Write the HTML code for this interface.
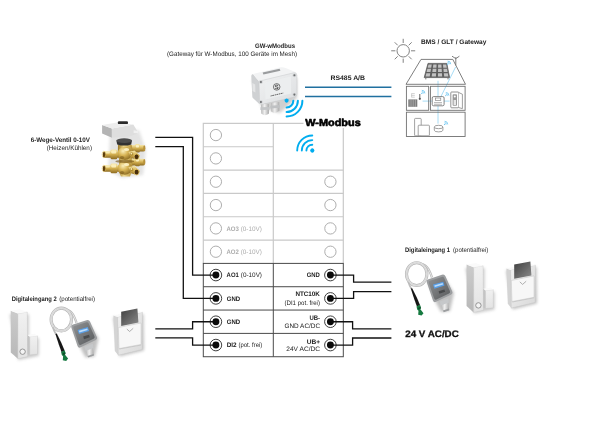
<!DOCTYPE html>
<html><head><meta charset="utf-8"><title>W-Modbus Anschlussbild</title>
<style>
html,body{margin:0;padding:0;background:#fff;}
body{width:600px;height:424px;overflow:hidden;}
svg{display:block;font-family:"Liberation Sans",sans-serif;}
</style></head>
<body>
<svg width="600" height="424" viewBox="0 0 600 424">
<rect width="600" height="424" fill="#fff"/>
<defs>
<filter id="soft" x="-10%" y="-10%" width="120%" height="120%"><feGaussianBlur stdDeviation="0.35"/></filter>
<filter id="soft2" x="-10%" y="-10%" width="120%" height="120%"><feGaussianBlur stdDeviation="0.55"/></filter>
<filter id="shadow" x="-30%" y="-30%" width="160%" height="160%"><feGaussianBlur stdDeviation="1.6"/></filter>
<linearGradient id="gCard" x1="0" y1="0" x2="1" y2="1"><stop offset="0" stop-color="#3f3f3f"/><stop offset="1" stop-color="#8c8c8c"/></linearGradient>
<linearGradient id="gFront" x1="0" y1="0" x2="0" y2="1"><stop offset="0" stop-color="#f1f1f1"/><stop offset="1" stop-color="#e3e3e3"/></linearGradient>
<linearGradient id="gSide" x1="0" y1="0" x2="0" y2="1"><stop offset="0" stop-color="#cbcbcb"/><stop offset="1" stop-color="#b8b8b8"/></linearGradient>
<linearGradient id="gPlate" x1="0" y1="0" x2="1" y2="1"><stop offset="0" stop-color="#efefef"/><stop offset="1" stop-color="#dadada"/></linearGradient>
<linearGradient id="gBox" x1="0" y1="0" x2="1" y2="1"><stop offset="0" stop-color="#909294"/><stop offset="1" stop-color="#595b5d"/></linearGradient>
<linearGradient id="gBrass" x1="0" y1="0" x2="0" y2="1"><stop offset="0" stop-color="#f8e9ac"/><stop offset="0.5" stop-color="#d3af50"/><stop offset="1" stop-color="#8e6c22"/></linearGradient>
<linearGradient id="gBrassH" x1="0" y1="0" x2="1" y2="0"><stop offset="0" stop-color="#9a7826"/><stop offset="0.4" stop-color="#f0d88c"/><stop offset="1" stop-color="#b08c34"/></linearGradient>
<linearGradient id="gGland" x1="0" y1="0" x2="1" y2="0"><stop offset="0" stop-color="#b9b9b9"/><stop offset="0.45" stop-color="#f0f0f0"/><stop offset="1" stop-color="#a9a9a9"/></linearGradient>
<linearGradient id="gLid" x1="0" y1="0" x2="1" y2="1"><stop offset="0" stop-color="#f1f2f3"/><stop offset="1" stop-color="#dcdee0"/></linearGradient>
<radialGradient id="gBrassR" cx="0.38" cy="0.32" r="0.75"><stop offset="0" stop-color="#fbefbc"/><stop offset="0.45" stop-color="#d8b454"/><stop offset="1" stop-color="#86651e"/></radialGradient>
</defs>
<g fill="none" stroke-linecap="butt">
<g stroke="#747474" stroke-width="0.9">
<circle cx="403.2" cy="50.8" r="6.2"/>
<path d="M411.00 50.80 L415.20 50.80"/>
<path d="M408.72 56.32 L411.69 59.29"/>
<path d="M403.20 58.60 L403.20 62.80"/>
<path d="M397.68 56.32 L394.71 59.29"/>
<path d="M395.40 50.80 L391.20 50.80"/>
<path d="M397.68 45.28 L394.71 42.31"/>
<path d="M403.20 43.00 L403.20 38.80"/>
<path d="M408.72 45.28 L411.69 42.31"/>
</g>
<g stroke="#8fd3f4" stroke-width="0.8">
<path d="M438.0 80.8 V96.6"/>
<path d="M438.0 105.8 V123.6"/>
<path d="M455.6 67.0 L440.9 96.6"/>
<path d="M422.6 101.1 H432.2"/>
<path d="M444.1 101.1 H449.6"/>
</g>
<g stroke="#707070" stroke-width="0.9" stroke-linejoin="miter">
<path d="M406.0 84.3 L421.0 59.4 H452.8 L465.5 84.3 Z"/>
<rect x="406.4" y="86.3" width="22.3" height="24.0"/>
<rect x="430.4" y="86.3" width="34.7" height="24.0"/>
<rect x="406.4" y="112.2" width="58.7" height="24.3"/>
<path d="M455.8 65.4 V57.2 M455.8 58.6 L452.0 56.2 M455.8 58.6 L459.4 56.2"/>
</g>
<polygon points="428.0,63.4 446.8,63.4 449.6,77.6 424.2,77.6" fill="#5e5e5e" stroke="#5e5e5e" stroke-width="0.8"/>
<polygon points="428.50,64.40 431.78,64.40 431.22,67.70 427.68,67.70" fill="#c2c2c2"/>
<polygon points="433.32,64.40 436.59,64.40 436.42,67.70 432.88,67.70" fill="#c2c2c2"/>
<polygon points="438.14,64.40 441.41,64.40 441.62,67.70 438.08,67.70" fill="#c2c2c2"/>
<polygon points="442.95,64.40 446.23,64.40 446.82,67.70 443.28,67.70" fill="#c2c2c2"/>
<polygon points="427.41,68.80 431.03,68.80 430.47,72.10 426.59,72.10" fill="#c2c2c2"/>
<polygon points="432.73,68.80 436.36,68.80 436.18,72.10 432.30,72.10" fill="#c2c2c2"/>
<polygon points="438.06,68.80 441.68,68.80 441.89,72.10 438.01,72.10" fill="#c2c2c2"/>
<polygon points="443.39,68.80 447.01,68.80 447.60,72.10 443.72,72.10" fill="#c2c2c2"/>
<polygon points="426.31,73.20 430.28,73.20 429.72,76.50 425.49,76.50" fill="#c2c2c2"/>
<polygon points="432.15,73.20 436.12,73.20 435.94,76.50 431.71,76.50" fill="#c2c2c2"/>
<polygon points="437.99,73.20 441.96,73.20 442.17,76.50 437.93,76.50" fill="#c2c2c2"/>
<polygon points="443.83,73.20 447.80,73.20 448.39,76.50 444.16,76.50" fill="#c2c2c2"/>
<path d="M425.8 77.6 V79.4 M448.0 77.6 V79.4" stroke="#6a6a6a" stroke-width="0.9"/>
<rect x="408.3" y="99.4" width="9.0" height="7.4" fill="#7a7a7a"/>
<path d="M410.10 99.4 V106.8" stroke="#cfcfcf" stroke-width="0.45"/>
<path d="M411.90 99.4 V106.8" stroke="#cfcfcf" stroke-width="0.45"/>
<path d="M413.70 99.4 V106.8" stroke="#cfcfcf" stroke-width="0.45"/>
<path d="M415.50 99.4 V106.8" stroke="#cfcfcf" stroke-width="0.45"/>
<path d="M411.4 93.6 H414.8 M411.4 95.4 H414.8 M411.4 97.2 H414.8 M411.6 93.6 V97.2" stroke="#b5b5b5" stroke-width="0.6"/>
<path d="M419.8 94.0 V98.4" stroke="#555" stroke-width="0.9"/><circle cx="419.8" cy="98.8" r="1.1" fill="#555"/>
<rect x="432.2" y="96.6" width="11.9" height="9.2" rx="1.4" fill="#fff" stroke="#666" stroke-width="0.8"/>
<rect x="435.4" y="98.0" width="5.4" height="2.6" fill="#fff" stroke="#777" stroke-width="0.6"/>
<rect x="434.40" y="102.2" width="1.2" height="0.9" fill="#777"/>
<rect x="434.40" y="103.8" width="1.2" height="0.9" fill="#777"/>
<rect x="436.40" y="102.2" width="1.2" height="0.9" fill="#777"/>
<rect x="436.40" y="103.8" width="1.2" height="0.9" fill="#777"/>
<rect x="438.40" y="102.2" width="1.2" height="0.9" fill="#777"/>
<rect x="438.40" y="103.8" width="1.2" height="0.9" fill="#777"/>
<rect x="440.40" y="102.2" width="1.2" height="0.9" fill="#777"/>
<rect x="440.40" y="103.8" width="1.2" height="0.9" fill="#777"/>
<rect x="450.8" y="92.0" width="8.0" height="15.8" rx="0.8" fill="#fff" stroke="#777" stroke-width="0.8"/>
<path d="M458.8 92.6 L462.4 94.2 V108.6 L458.8 107.6" stroke="#777" stroke-width="0.7" fill="#fff"/>
<rect x="452.6" y="94.2" width="4.4" height="11.6" rx="0.8" fill="#9a9a9a"/>
<circle cx="454.8" cy="96.6" r="1.0" fill="#fff"/>
<path d="M453.6 100 H456 V105 H453.6 Z" fill="#e6e6e6"/>
<rect x="414.6" y="118.4" width="6.6" height="17.4" rx="0.8" fill="#fff" stroke="#8a8a8a" stroke-width="0.8"/>
<rect x="418.2" y="125.2" width="11.2" height="10.6" rx="0.8" fill="#fff" stroke="#8a8a8a" stroke-width="0.8"/>
<path d="M434.3 127.0 V130.2 A4.3 1.7 0 0 0 442.9 130.2 V127.0" fill="#fff" stroke="#777" stroke-width="0.7"/>
<ellipse cx="438.6" cy="127.0" rx="4.3" ry="1.7" fill="#fff" stroke="#777" stroke-width="0.7"/>
<g stroke="#74c8f2" stroke-width="0.9" fill="none"><circle cx="447.6" cy="64.2" r="0.7" fill="#74c8f2" stroke="none"/><path d="M447.6 62.5 A1.7 1.7 0 0 1 449.3 64.2"/><path d="M447.6 61.1 A3.1 3.1 0 0 1 450.70000000000005 64.2"/></g>
<g stroke="#74c8f2" stroke-width="0.9" fill="none"><circle cx="421.8" cy="93.4" r="0.7" fill="#74c8f2" stroke="none"/><path d="M421.8 91.7 A1.7 1.7 0 0 1 423.5 93.4"/><path d="M421.8 90.30000000000001 A3.1 3.1 0 0 1 424.90000000000003 93.4"/></g>
<g stroke="#74c8f2" stroke-width="0.9" fill="none"><circle cx="445.8" cy="95.6" r="0.7" fill="#74c8f2" stroke="none"/><path d="M445.8 93.89999999999999 A1.7 1.7 0 0 1 447.5 95.6"/><path d="M445.8 92.5 A3.1 3.1 0 0 1 448.90000000000003 95.6"/></g>
<g stroke="#74c8f2" stroke-width="0.9" fill="none"><circle cx="444.6" cy="124.4" r="0.7" fill="#74c8f2" stroke="none"/><path d="M444.6 122.7 A1.7 1.7 0 0 1 446.3 124.4"/><path d="M444.6 121.30000000000001 A3.1 3.1 0 0 1 447.70000000000005 124.4"/></g>
</g>
<g>
<polygon points="252,80 262,108 280,113 297,98 297,78" fill="#777" opacity="0.35" filter="url(#shadow)"/>
<g filter="url(#soft)">
<path d="M261.0,104 L268.8,104 L269.0,113.4 Q265,116.8 261.2,113.6 Z" fill="url(#gGland)"/>
<path d="M260.4,107.2 L269.6,107.0 L269.6,109.8 L260.4,110.0 Z" fill="#c4c6c8"/>
<path d="M271.0,103 L279.2,102 L279.4,110.8 Q275,114.2 271.2,111.4 Z" fill="url(#gGland)"/>
<path d="M270.4,105.8 L279.8,105.0 L279.8,107.8 L270.4,108.4 Z" fill="#bfc1c3"/>
<path d="M251.3,76.6 Q251.0,74.6 253.0,74.0 L259.0,81.4 L259.6,104.2 L253.4,98.6 Q252.4,97.8 252.3,96.4 Z" fill="#cfd1d3"/>
<path d="M252.4,83 L255.2,84.6 L255.4,92.6 L252.6,91.0 Z" fill="#e4e5e6"/>
<path d="M253.0,74.0 L279.6,67.5 Q282.6,66.9 285.6,68.0 L296.6,72.4 L259.0,81.4 Z" fill="#f2f3f4"/>
<path d="M262.6,72.4 L279.6,68.8 L280.4,70.8 L263.4,74.6 Z" fill="#9a9c9e"/>
<path d="M261.4,80.6 L293.8,72.8 Q296.8,72.2 296.9,75.2 L297.0,94.0 Q297.0,96.4 294.6,97.0 L262.4,104.3 Q259.7,104.9 259.6,102.0 L259.0,83.6 Q258.9,81.2 261.4,80.6 Z" fill="url(#gLid)" stroke="#c6c8ca" stroke-width="0.5"/>
<path d="M265.0,82.6 L291.0,76.4 L291.2,93.6 L265.4,99.6 Z" fill="#eceeef" opacity="0.9"/>
<circle cx="260.9" cy="82.0" r="1.9" fill="#d2d4d6"/>
<circle cx="260.9" cy="82.0" r="1.05" fill="#6c6e70"/>
<circle cx="294.4" cy="75.3" r="1.9" fill="#d2d4d6"/>
<circle cx="294.4" cy="75.3" r="1.05" fill="#6c6e70"/>
<circle cx="294.4" cy="94.6" r="1.9" fill="#d2d4d6"/>
<circle cx="294.4" cy="94.6" r="1.05" fill="#6c6e70"/>
<circle cx="260.9" cy="102.0" r="1.9" fill="#d2d4d6"/>
<circle cx="260.9" cy="102.0" r="1.05" fill="#6c6e70"/>
<circle cx="276.7" cy="86.9" r="3.3" fill="none" stroke="#444" stroke-width="0.7"/>
<path d="M278.2,85.6 Q276.6,84.6 275.4,85.6 Q274.6,86.6 276.7,86.9 Q278.9,87.3 278.0,88.4 Q276.7,89.3 275.1,88.2" fill="none" stroke="#2a2a2a" stroke-width="0.75"/>
<path d="M270.6,96.0 L283.4,93.0" fill="none" stroke="#555" stroke-width="0.9" stroke-dasharray="1.2 0.5 2 0.6"/>
</g></g>
<g>
<polygon points="110,133 139,130 146,150 143,175 122,178 108,170" fill="#777" opacity="0.2" filter="url(#shadow)"/>
<g filter="url(#soft2)">
<rect x="130" y="145.0" width="14.6" height="6.6" rx="1.5" fill="url(#gBrass)"/>
<rect x="135.2" y="144.1" width="4.6" height="8.4" rx="1" fill="url(#gBrass)"/>
<rect x="135.8" y="145.0" width="3.2" height="2.6" rx="0.8" fill="#fdf3c6" opacity="0.9"/>
<ellipse cx="144.3" cy="148.3" rx="1.1" ry="3.0" fill="#b8923a"/>
<rect x="130" y="158.8" width="14.6" height="6.6" rx="1.5" fill="url(#gBrass)"/>
<rect x="135.2" y="157.9" width="4.6" height="8.4" rx="1" fill="url(#gBrass)"/>
<rect x="135.8" y="158.8" width="3.2" height="2.6" rx="0.8" fill="#fdf3c6" opacity="0.9"/>
<ellipse cx="144.3" cy="162.10000000000002" rx="1.1" ry="3.0" fill="#b8923a"/>
<rect x="103.2" y="151.20000000000002" width="17" height="6.6" rx="1.5" fill="url(#gBrass)"/>
<rect x="110.6" y="149.4" width="6.6" height="9.8" rx="1.2" fill="url(#gBrass)"/>
<rect x="111.2" y="150.20000000000002" width="5.0" height="3.4" rx="1" fill="#fdf1c0" opacity="0.9"/>
<ellipse cx="104.2" cy="154.5" rx="1.4" ry="2.8" fill="#5c3d0e"/>
<ellipse cx="103.9" cy="154.5" rx="1.7" ry="3.3" fill="none" stroke="#dcbc60" stroke-width="0.6"/>
<rect x="105.6" y="151.60000000000002" width="4.2" height="2.0" rx="0.8" fill="#fbeeb8" opacity="0.85"/>
<rect x="103.2" y="165.20000000000002" width="17" height="6.6" rx="1.5" fill="url(#gBrass)"/>
<rect x="110.6" y="163.4" width="6.6" height="9.8" rx="1.2" fill="url(#gBrass)"/>
<rect x="111.2" y="164.20000000000002" width="5.0" height="3.4" rx="1" fill="#fdf1c0" opacity="0.9"/>
<ellipse cx="104.2" cy="168.5" rx="1.4" ry="2.8" fill="#5c3d0e"/>
<ellipse cx="103.9" cy="168.5" rx="1.7" ry="3.3" fill="none" stroke="#dcbc60" stroke-width="0.6"/>
<rect x="105.6" y="165.60000000000002" width="4.2" height="2.0" rx="0.8" fill="#fbeeb8" opacity="0.85"/>
<path d="M118.0,144.8 L131.6,144.8 L133.0,152 L131.6,160.6 L133.0,168.6 L130.0,176.6 L121,176.6 L118.2,170.6 L119.4,161.4 L117.8,152.6 Z" fill="url(#gBrassH)"/>
<ellipse cx="124.8" cy="153.4" rx="7.2" ry="6.6" fill="url(#gBrassR)"/>
<ellipse cx="124.8" cy="168.2" rx="7.2" ry="6.6" fill="url(#gBrassR)"/>
<ellipse cx="124.8" cy="161.4" rx="9.5" ry="1.5" fill="#6e4f14" opacity="0.6"/>
<ellipse cx="122.0" cy="157.6" rx="2.2" ry="1.6" fill="#7a5a1a" opacity="0.55"/>
<ellipse cx="122.0" cy="172.6" rx="2.2" ry="1.6" fill="#7a5a1a" opacity="0.55"/>
<ellipse cx="126.6" cy="149.4" rx="2.6" ry="1.5" fill="#fff6cf" opacity="0.85"/>
<ellipse cx="126.6" cy="164.4" rx="2.6" ry="1.5" fill="#fff6cf" opacity="0.85"/>
<path d="M128.4,151.9 L134.5,150.4 L139.8,155.6 L137.6,159.6 L131.4,158.20000000000002 Z" fill="url(#gBrass)"/>
<ellipse cx="136.6" cy="156.70000000000002" rx="2.2" ry="2.5" fill="#4a2f08"/>
<ellipse cx="136.6" cy="156.70000000000002" rx="2.6" ry="2.9" fill="none" stroke="#e2c46a" stroke-width="0.7"/>
<circle cx="131.6" cy="154.0" r="1.7" fill="#a8842c" opacity="0.9"/>
<circle cx="131.4" cy="153.6" r="0.9" fill="#fbeeb8" opacity="0.95"/>
<path d="M128.4,167.3 L134.5,165.8 L139.8,171.0 L137.6,175.0 L131.4,173.60000000000002 Z" fill="url(#gBrass)"/>
<ellipse cx="136.6" cy="172.10000000000002" rx="2.2" ry="2.5" fill="#4a2f08"/>
<ellipse cx="136.6" cy="172.10000000000002" rx="2.6" ry="2.9" fill="none" stroke="#e2c46a" stroke-width="0.7"/>
<circle cx="131.6" cy="169.4" r="1.7" fill="#a8842c" opacity="0.9"/>
<circle cx="131.4" cy="169.0" r="0.9" fill="#fbeeb8" opacity="0.95"/>
<path d="M116.4,140.6 L132.0,140.6 L131.2,144.4 Q124.2,146.8 117.2,144.4 Z" fill="#333"/>
<ellipse cx="124.2" cy="140.6" rx="7.8" ry="2.4" fill="#4e4e4e"/>
<polygon points="102.1,125.0 111.9,128.5 111.9,137.8 102.1,133.6" fill="#b4b4b4"/>
<polygon points="111.9,128.5 133.3,124.6 137.6,131.4 137.6,133.4 129.6,136.4 111.9,137.8" fill="#dedede"/>
<polygon points="102.1,125.0 117.2,122.4 133.3,124.6 111.9,128.5" fill="#ededed"/>
<polygon points="133.6,130.2 138.2,131.0 138.2,133.2 133.6,133.0" fill="#f0f0f0"/>
<rect x="117.8" y="121.2" width="10.2" height="2.9" rx="1.2" fill="#2c2c2c"/>
</g></g>
<g transform="translate(0.00 0.00)">
<polygon points="428,282 444,277 454,293 450,311 441,312 436,303" fill="#777" opacity="0.45" filter="url(#shadow)"/>
<g filter="url(#soft)">
<path d="M422.0,264.2 C427.5,265.5 429.5,270.5 432.0,277.5" fill="none" stroke="#b9b9b9" stroke-width="2.3"/>
<path d="M422.0,264.2 C427.5,265.5 429.5,270.5 432.0,277.5" fill="none" stroke="#e6e6e6" stroke-width="1.0"/>
<ellipse cx="416.7" cy="274.1" rx="10.2" ry="11.4" fill="none" stroke="#b7b7b7" stroke-width="3.1"/>
<ellipse cx="416.7" cy="274.1" rx="10.2" ry="11.4" fill="none" stroke="#e4e4e4" stroke-width="1.7"/>
<ellipse cx="416.7" cy="274.1" rx="10.2" ry="11.4" fill="none" stroke="#c6c6c6" stroke-width="0.45"/>
<path d="M408.2,281.8 C409.1,284.7 410.1,286.7 411.4,288.8" fill="none" stroke="#bdbdbd" stroke-width="1.7"/>
<polygon points="410.8,288.6 412.2,288.2 416.6,297.0 420.0,305.0 417.0,306.8 414.2,299.0" fill="#171717"/>
<polygon points="416.5,306.6 420.0,304.8 421.0,307.6 420.2,309.0 423.5,313.2 421.6,315.6 418.2,314.8 418.5,310.8 417.2,309.6" fill="#167a41"/>
<polygon points="417.8,308.0 420.4,306.8 421.0,308.6 418.5,309.8" fill="#0c4f29"/>
<polygon points="441.0,302.8 448.0,300.4 449.2,310.2 443.8,312.0" fill="url(#gGland)"/>
<polygon points="439.8,301.4 448.2,298.4 449.0,302.6 440.8,305.6" fill="#c6c8ca"/>
<polygon points="442.8,310.6 449.0,308.6 449.2,310.2 443.8,312.2" fill="#9c9ea0"/>
<path d="M426.84,282.46 Q426.00,280.00 428.47,279.19 L441.93,274.81 Q444.40,274.00 445.46,276.37 L452.14,291.23 Q453.20,293.60 450.86,294.73 L436.14,301.87 Q433.80,303.00 432.96,300.54 Z" fill="#9c9ea0"/>
<path d="M428.79,282.90 Q428.20,281.20 429.92,280.66 L441.68,276.94 Q443.40,276.40 444.13,278.04 L449.87,290.96 Q450.60,292.60 448.98,293.38 L436.42,299.42 Q434.80,300.20 434.21,298.50 Z" fill="url(#gBox)"/>
<polygon points="433.0,284.6 443.2,281.7 444.5,285.6 434.4,288.7" fill="#5a9fe6"/>
<polygon points="434.3,285.4 442.6,283.0 443.1,284.6 434.9,287.0" fill="#cfe6fb" opacity="0.85"/>
<polygon points="438.6,291.2 444.4,289.4 445.2,291.8 439.4,293.8" fill="#47494b"/>
</g></g>
<g transform="translate(0.00 0.00)">
<polygon points="465.5,268 474,313.6 494.5,309.5 494.5,292 484.5,291 484.5,268" fill="#888" opacity="0.45" filter="url(#shadow)"/>
<g filter="url(#soft)">
<polygon points="466.56,264.5 473.66,267.3 473.66,312.4 466.56,306.1" fill="url(#gSide)"/>
<polygon points="473.66,267.3 483.07,265.7 483.4,310.3 473.66,312.4" fill="url(#gFront)" stroke="#c4c4c4" stroke-width="0.4"/>
<polygon points="466.56,264.5 475.64,262.9 483.07,265.7 473.66,267.3" fill="#fafafa"/>
<circle cx="478.4" cy="305.4" r="2.7" fill="#f4f4f4" stroke="#858585" stroke-width="0.85"/>
<polygon points="483.4,288.8 485.54,290.4 485.54,308.6 483.4,307.8" fill="#c4c4c4"/>
<polygon points="485.54,290.4 493.3,289.6 493.3,307.8 485.54,308.6" fill="url(#gFront)" stroke="#c4c4c4" stroke-width="0.4"/>
<polygon points="483.4,288.8 490.5,287.5 493.3,289.6 485.54,290.4" fill="#fafafa"/>
</g></g>
<g transform="translate(0.00 0.00)">
<polygon points="506,270.5 536.5,267 537,303.5 512.5,309.5" fill="#888" opacity="0.5" filter="url(#shadow)"/>
<g filter="url(#soft)">
<polygon points="506.4,268.4 510.6,269.9 511.3,308.1 507.8,303.8" fill="#d4d4d4"/>
<polygon points="510.6,269.9 535.4,265.2 535.1,302.4 511.3,308.1" fill="url(#gPlate)" stroke="#c6c6c6" stroke-width="0.5"/>
<polygon points="506.4,268.4 531.0,264.2 535.4,265.2 510.6,269.9" fill="#f8f8f8"/>
<polygon points="514.2,264.6 530.4,261.4 531.4,275.4 514.2,278.8" fill="url(#gCard)"/>
<polygon points="511.5,281.3 534.2,276.7 534.2,298.3 512.2,302.5" fill="#c4c4c4" opacity="0.8"/>
<polygon points="511.3,280.5 534.0,275.9 534.0,297.3 512.0,301.5" fill="#f7f7f7" stroke="#c2c2c2" stroke-width="0.45"/>
<polyline points="519.8,281.9 522.6,284.4 526.2,281.2" fill="none" stroke="#8f8f8f" stroke-width="0.7"/>
</g></g>
<g transform="translate(-355.40 45.40)">
<polygon points="428,282 444,277 454,293 450,311 441,312 436,303" fill="#777" opacity="0.45" filter="url(#shadow)"/>
<g filter="url(#soft)">
<path d="M422.0,264.2 C427.5,265.5 429.5,270.5 432.0,277.5" fill="none" stroke="#b9b9b9" stroke-width="2.3"/>
<path d="M422.0,264.2 C427.5,265.5 429.5,270.5 432.0,277.5" fill="none" stroke="#e6e6e6" stroke-width="1.0"/>
<ellipse cx="416.7" cy="274.1" rx="10.2" ry="11.4" fill="none" stroke="#b7b7b7" stroke-width="3.1"/>
<ellipse cx="416.7" cy="274.1" rx="10.2" ry="11.4" fill="none" stroke="#e4e4e4" stroke-width="1.7"/>
<ellipse cx="416.7" cy="274.1" rx="10.2" ry="11.4" fill="none" stroke="#c6c6c6" stroke-width="0.45"/>
<path d="M408.2,281.8 C409.1,284.7 410.1,286.7 411.4,288.8" fill="none" stroke="#bdbdbd" stroke-width="1.7"/>
<polygon points="410.8,288.6 412.2,288.2 416.6,297.0 420.0,305.0 417.0,306.8 414.2,299.0" fill="#171717"/>
<polygon points="416.5,306.6 420.0,304.8 421.0,307.6 420.2,309.0 423.5,313.2 421.6,315.6 418.2,314.8 418.5,310.8 417.2,309.6" fill="#167a41"/>
<polygon points="417.8,308.0 420.4,306.8 421.0,308.6 418.5,309.8" fill="#0c4f29"/>
<polygon points="441.0,302.8 448.0,300.4 449.2,310.2 443.8,312.0" fill="url(#gGland)"/>
<polygon points="439.8,301.4 448.2,298.4 449.0,302.6 440.8,305.6" fill="#c6c8ca"/>
<polygon points="442.8,310.6 449.0,308.6 449.2,310.2 443.8,312.2" fill="#9c9ea0"/>
<path d="M426.84,282.46 Q426.00,280.00 428.47,279.19 L441.93,274.81 Q444.40,274.00 445.46,276.37 L452.14,291.23 Q453.20,293.60 450.86,294.73 L436.14,301.87 Q433.80,303.00 432.96,300.54 Z" fill="#9c9ea0"/>
<path d="M428.79,282.90 Q428.20,281.20 429.92,280.66 L441.68,276.94 Q443.40,276.40 444.13,278.04 L449.87,290.96 Q450.60,292.60 448.98,293.38 L436.42,299.42 Q434.80,300.20 434.21,298.50 Z" fill="url(#gBox)"/>
<polygon points="433.0,284.6 443.2,281.7 444.5,285.6 434.4,288.7" fill="#5a9fe6"/>
<polygon points="434.3,285.4 442.6,283.0 443.1,284.6 434.9,287.0" fill="#cfe6fb" opacity="0.85"/>
<polygon points="438.6,291.2 444.4,289.4 445.2,291.8 439.4,293.8" fill="#47494b"/>
</g></g>
<g transform="translate(-455.80 46.30)">
<polygon points="465.5,268 474,313.6 494.5,309.5 494.5,292 484.5,291 484.5,268" fill="#888" opacity="0.45" filter="url(#shadow)"/>
<g filter="url(#soft)">
<polygon points="466.56,264.5 473.66,267.3 473.66,312.4 466.56,306.1" fill="url(#gSide)"/>
<polygon points="473.66,267.3 483.07,265.7 483.4,310.3 473.66,312.4" fill="url(#gFront)" stroke="#c4c4c4" stroke-width="0.4"/>
<polygon points="466.56,264.5 475.64,262.9 483.07,265.7 473.66,267.3" fill="#fafafa"/>
<circle cx="478.4" cy="305.4" r="2.7" fill="#f4f4f4" stroke="#858585" stroke-width="0.85"/>
<polygon points="483.4,288.8 485.54,290.4 485.54,308.6 483.4,307.8" fill="#c4c4c4"/>
<polygon points="485.54,290.4 493.3,289.6 493.3,307.8 485.54,308.6" fill="url(#gFront)" stroke="#c4c4c4" stroke-width="0.4"/>
<polygon points="483.4,288.8 490.5,287.5 493.3,289.6 485.54,290.4" fill="#fafafa"/>
</g></g>
<g transform="translate(-393.00 47.10)">
<polygon points="506,270.5 536.5,267 537,303.5 512.5,309.5" fill="#888" opacity="0.5" filter="url(#shadow)"/>
<g filter="url(#soft)">
<polygon points="506.4,268.4 510.6,269.9 511.3,308.1 507.8,303.8" fill="#d4d4d4"/>
<polygon points="510.6,269.9 535.4,265.2 535.1,302.4 511.3,308.1" fill="url(#gPlate)" stroke="#c6c6c6" stroke-width="0.5"/>
<polygon points="506.4,268.4 531.0,264.2 535.4,265.2 510.6,269.9" fill="#f8f8f8"/>
<polygon points="514.2,264.6 530.4,261.4 531.4,275.4 514.2,278.8" fill="url(#gCard)"/>
<polygon points="511.5,281.3 534.2,276.7 534.2,298.3 512.2,302.5" fill="#c4c4c4" opacity="0.8"/>
<polygon points="511.3,280.5 534.0,275.9 534.0,297.3 512.0,301.5" fill="#f7f7f7" stroke="#c2c2c2" stroke-width="0.45"/>
<polyline points="519.8,281.9 522.6,284.4 526.2,281.2" fill="none" stroke="#8f8f8f" stroke-width="0.7"/>
</g></g>
<g fill="none" stroke="#c9c9c9" stroke-width="1.2">
<path d="M203.3 263.398 V123.4 H343.3 V263.398"/>
<path d="M273.3 123.4 V263.398"/>
<path d="M203.3 146.73 H273.3"/>
<path d="M203.3 170.07 H343.3"/>
<path d="M203.3 193.40 H343.3"/>
<path d="M203.3 216.73 H343.3"/>
<path d="M203.3 240.06 H343.3"/>
<circle cx="215.9" cy="135.07" r="5.65" stroke="#aeaeae" stroke-width="1.0"/>
<circle cx="215.9" cy="158.40" r="5.65" stroke="#aeaeae" stroke-width="1.0"/>
<circle cx="215.9" cy="181.73" r="5.65" stroke="#aeaeae" stroke-width="1.0"/>
<circle cx="330.4" cy="181.73" r="5.65" stroke="#aeaeae" stroke-width="1.0"/>
<circle cx="215.9" cy="205.07" r="5.65" stroke="#aeaeae" stroke-width="1.0"/>
<circle cx="330.4" cy="205.07" r="5.65" stroke="#aeaeae" stroke-width="1.0"/>
<circle cx="215.9" cy="228.40" r="5.65" stroke="#aeaeae" stroke-width="1.0"/>
<circle cx="330.4" cy="228.40" r="5.65" stroke="#aeaeae" stroke-width="1.0"/>
<circle cx="215.9" cy="251.73" r="5.65" stroke="#aeaeae" stroke-width="1.0"/>
<circle cx="330.4" cy="251.73" r="5.65" stroke="#aeaeae" stroke-width="1.0"/>
</g>
<g fill="none" stroke="#4a4a4a" stroke-width="1">
<rect x="203.3" y="263.40" width="140.00" height="93.33"/>
<path d="M273.3 263.40 V356.73"/>
<path d="M203.3 286.73 H343.3"/>
<path d="M203.3 310.06 H343.3"/>
<path d="M203.3 333.40 H343.3"/>
</g>
<circle cx="215.9" cy="275.06" r="5.8" fill="#fff" stroke="#2a2a2a" stroke-width="0.9"/>
<circle cx="330.4" cy="275.06" r="5.8" fill="#fff" stroke="#2a2a2a" stroke-width="0.9"/>
<circle cx="215.9" cy="298.40" r="5.8" fill="#fff" stroke="#2a2a2a" stroke-width="0.9"/>
<circle cx="330.4" cy="298.40" r="5.8" fill="#fff" stroke="#2a2a2a" stroke-width="0.9"/>
<circle cx="215.9" cy="321.73" r="5.8" fill="#fff" stroke="#2a2a2a" stroke-width="0.9"/>
<circle cx="330.4" cy="321.73" r="5.8" fill="#fff" stroke="#2a2a2a" stroke-width="0.9"/>
<circle cx="215.9" cy="345.06" r="5.8" fill="#fff" stroke="#2a2a2a" stroke-width="0.9"/>
<circle cx="330.4" cy="345.06" r="5.8" fill="#fff" stroke="#2a2a2a" stroke-width="0.9"/>
<g fill="none" stroke="#111" stroke-width="1.3" stroke-linejoin="miter">
<path d="M155.3 137.4 H192.6 V275.06 H215.9"/>
<path d="M155.3 146.6 H183.3 V298.40 H215.9"/>
<path d="M155.3 328.8 H192.6 V321.73 H215.9"/>
<path d="M155.3 337.9 H192.6 V345.06 H215.9"/>
<path d="M330.4 275.06 H353.6 V282.2 H391.4"/>
<path d="M330.4 298.40 H353.6 V291.6 H391.4"/>
<path d="M330.4 321.73 H352.6 V328.8 H391.4"/>
<path d="M330.4 345.06 H352.6 V338.0 H391.4"/>
</g>
<circle cx="215.9" cy="275.06" r="3.45" fill="#0a0a0a"/>
<circle cx="330.4" cy="275.06" r="3.45" fill="#0a0a0a"/>
<circle cx="215.9" cy="298.40" r="3.45" fill="#0a0a0a"/>
<circle cx="330.4" cy="298.40" r="3.45" fill="#0a0a0a"/>
<circle cx="215.9" cy="321.73" r="3.45" fill="#0a0a0a"/>
<circle cx="330.4" cy="321.73" r="3.45" fill="#0a0a0a"/>
<circle cx="215.9" cy="345.06" r="3.45" fill="#0a0a0a"/>
<circle cx="330.4" cy="345.06" r="3.45" fill="#0a0a0a"/>
<g stroke="#2070a0" stroke-width="1.5"><path d="M305 87.2 H391.4"/><path d="M305 96.6 H391.4"/></g>
<g opacity="0.999" style="text-rendering:geometricPrecision"><text x="226.4" y="230.6" font-size="6.5" font-weight="bold" fill="#acacac" textLength="12.40" lengthAdjust="spacingAndGlyphs">AO3</text>
<text x="240.7" y="230.6" font-size="6.5" font-weight="normal" fill="#acacac" textLength="21.20" lengthAdjust="spacingAndGlyphs">(0-10V)</text>
<text x="226.4" y="253.9" font-size="6.5" font-weight="bold" fill="#acacac" textLength="12.40" lengthAdjust="spacingAndGlyphs">AO2</text>
<text x="240.7" y="253.9" font-size="6.5" font-weight="normal" fill="#acacac" textLength="21.20" lengthAdjust="spacingAndGlyphs">(0-10V)</text>
<text x="226.6" y="277.4" font-size="6.5" font-weight="bold" fill="#222" textLength="12.20" lengthAdjust="spacingAndGlyphs">AO1</text>
<text x="240.8" y="277.4" font-size="6.5" font-weight="normal" fill="#222" textLength="21.20" lengthAdjust="spacingAndGlyphs">(0-10V)</text>
<text x="226.7" y="300.6" font-size="6.5" font-weight="bold" fill="#222" textLength="13.40" lengthAdjust="spacingAndGlyphs">GND</text>
<text x="226.7" y="323.6" font-size="6.5" font-weight="bold" fill="#222" textLength="13.40" lengthAdjust="spacingAndGlyphs">GND</text>
<text x="226.7" y="347.1" font-size="6.5" font-weight="bold" fill="#222" textLength="10.00" lengthAdjust="spacingAndGlyphs">DI2</text>
<text x="238.6" y="347.1" font-size="6.5" font-weight="normal" fill="#222" textLength="23.60" lengthAdjust="spacingAndGlyphs">(pot. frei)</text>
<text x="306.7" y="277.4" font-size="6.5" font-weight="bold" fill="#222" textLength="13.20" lengthAdjust="spacingAndGlyphs">GND</text>
<text x="295.4" y="296.0" font-size="6.5" font-weight="bold" fill="#222" textLength="24.50" lengthAdjust="spacingAndGlyphs">NTC10K</text>
<text x="284.5" y="304.9" font-size="6.5" font-weight="normal" fill="#222" textLength="35.50" lengthAdjust="spacingAndGlyphs">(DI1 pot. frei)</text>
<text x="309.4" y="319.7" font-size="6.5" font-weight="bold" fill="#222" textLength="10.60" lengthAdjust="spacingAndGlyphs">UB-</text>
<text x="284.5" y="328.1" font-size="6.5" font-weight="normal" fill="#222" textLength="35.50" lengthAdjust="spacingAndGlyphs">GND AC/DC</text>
<text x="306.7" y="343.5" font-size="6.5" font-weight="bold" fill="#222" textLength="13.30" lengthAdjust="spacingAndGlyphs">UB+</text>
<text x="286.3" y="351.4" font-size="6.5" font-weight="normal" fill="#222" textLength="33.70" lengthAdjust="spacingAndGlyphs">24V AC/DC</text>
<text x="255" y="48.0" font-size="6.6" font-weight="bold" fill="#222" textLength="40.00" lengthAdjust="spacingAndGlyphs">GW-wModbus</text>
<text x="167" y="56.2" font-size="6.5" font-weight="normal" fill="#222" textLength="130.00" lengthAdjust="spacingAndGlyphs">(Gateway für W-Modbus, 100 Geräte im Mesh)</text>
<text x="330.5" y="80.1" font-size="6.6" font-weight="bold" fill="#222" textLength="34.50" lengthAdjust="spacingAndGlyphs">RS485 A/B</text>
<text x="421" y="43.8" font-size="6.6" font-weight="bold" fill="#222" textLength="65.40" lengthAdjust="spacingAndGlyphs">BMS / GLT / Gateway</text>
<rect x="303.5" y="116" width="59" height="12" fill="#fff"/>
<text x="305.3" y="126.0" font-size="10.2" font-weight="bold" fill="#000" textLength="55.40" lengthAdjust="spacingAndGlyphs" stroke="#000" stroke-width="0.6" stroke-linejoin="round">W-Modbus</text>
<text x="30.7" y="141.6" font-size="6.5" font-weight="bold" fill="#222" textLength="59.30" lengthAdjust="spacingAndGlyphs">6-Wege-Ventil 0-10V</text>
<text x="46.7" y="149.6" font-size="6.5" font-weight="normal" fill="#222" textLength="45.30" lengthAdjust="spacingAndGlyphs">(Heizen/Kühlen)</text>
<text x="405" y="251.7" font-size="6.5" font-weight="bold" fill="#222" textLength="45.00" lengthAdjust="spacingAndGlyphs">Digitaleingang 1</text>
<text x="453" y="251.7" font-size="6.5" font-weight="normal" fill="#222" textLength="35.30" lengthAdjust="spacingAndGlyphs">(potentialfrei)</text>
<text x="11.7" y="300.5" font-size="6.5" font-weight="bold" fill="#222" textLength="45.00" lengthAdjust="spacingAndGlyphs">Digitaleingang 2</text>
<text x="59.2" y="300.5" font-size="6.5" font-weight="normal" fill="#222" textLength="35.80" lengthAdjust="spacingAndGlyphs">(potentialfrei)</text>
<text x="405.2" y="337.1" font-size="9.4" font-weight="bold" fill="#111" textLength="53.60" lengthAdjust="spacingAndGlyphs" stroke="#111" stroke-width="0.3">24 V AC/DC</text></g>
<g transform="translate(286.6 100.7) rotate(135)" fill="none" stroke="#00adef" stroke-width="2.0" stroke-linecap="round">
<circle cx="0" cy="0" r="2.0" fill="#00adef" stroke="none"/>
<path d="M-4.74 -4.74 A6.7 6.7 0 0 1 4.74 -4.74"/>
<path d="M-7.99 -7.99 A11.3 11.3 0 0 1 7.99 -7.99"/>
<path d="M-11.17 -11.17 A15.8 15.8 0 0 1 11.17 -11.17"/>
</g>
<g transform="translate(312.3 150.6) rotate(-45)" fill="none" stroke="#00adef" stroke-width="1.9" stroke-linecap="round">
<circle cx="0" cy="0" r="2.1" fill="#00adef" stroke="none"/>
<path d="M-4.17 -4.17 A5.9 5.9 0 0 1 4.17 -4.17"/>
<path d="M-7.42 -7.42 A10.5 10.5 0 0 1 7.42 -7.42"/>
<path d="M-10.68 -10.68 A15.1 15.1 0 0 1 10.68 -10.68"/>
</g>
</svg>
</body></html>
